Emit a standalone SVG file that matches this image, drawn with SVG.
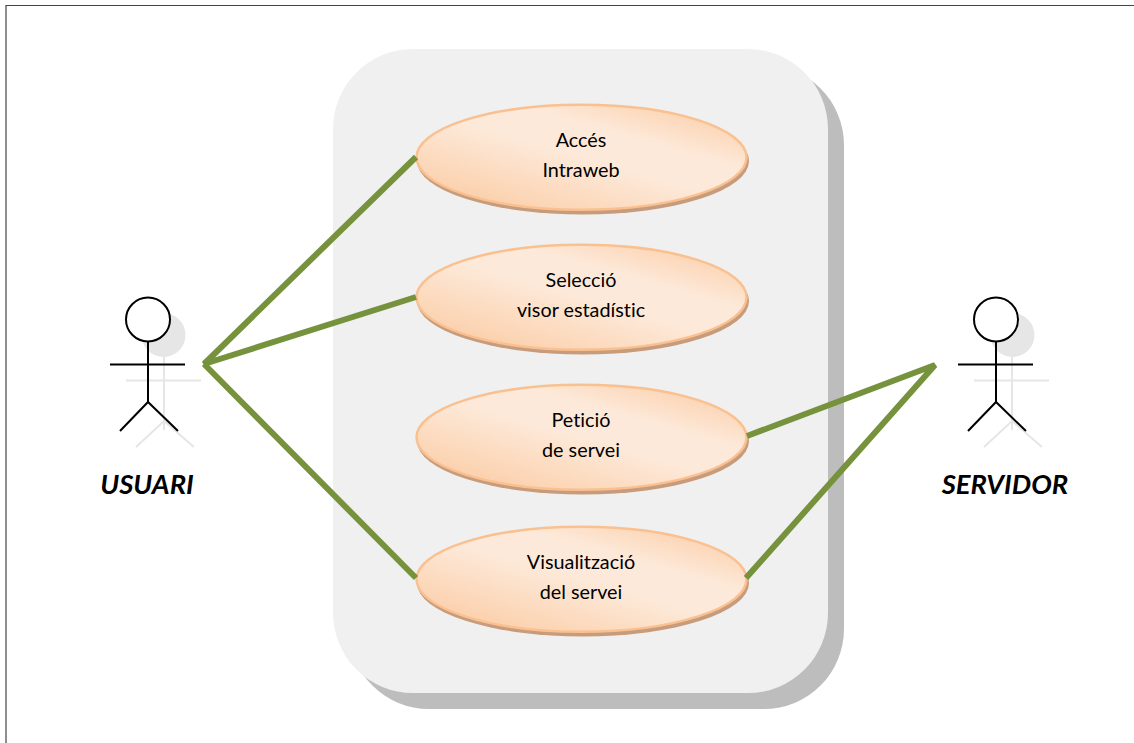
<svg xmlns="http://www.w3.org/2000/svg" width="1134" height="743" viewBox="0 0 1134 743">
<style>
.e{fill:url(#g);stroke:#fac090;stroke-width:2.5}
.es{fill:#c79c7c}
.t{font-family:Lato,"Liberation Sans",sans-serif;font-size:19.800px;fill:#000;text-anchor:middle;font-variant-ligatures:none}
.a{font-family:Lato,"Liberation Sans",sans-serif;font-size:27.400px;font-weight:700;font-style:italic;fill:#000;text-anchor:middle}
.l{fill:none;stroke:#000;stroke-width:2}
.s{fill:none;stroke:#e6e6e6;stroke-width:2}
.c{fill:none;stroke:#76923c;stroke-width:6;stroke-linejoin:miter}
</style>
<defs>
<linearGradient id="g" x1="0.05" y1="1" x2="0.95" y2="0">
<stop offset="0" stop-color="#fbc99f"/><stop offset="0.5" stop-color="#fde9d9"/><stop offset="0.68" stop-color="#fde9d9"/><stop offset="1" stop-color="#fbcaa2"/>
</linearGradient>
</defs>
<rect width="1134" height="743" fill="#fff"/>
<path d="M6 743V5.500H1134" fill="none" stroke="#444" stroke-width="1.200"/>
<g id="boundary">
<rect x="349" y="65" width="495" height="644" rx="80" fill="#bdbdbd"/>
<rect x="333" y="49" width="495" height="644" rx="80" fill="#f0f0f0"/>
</g>
<g id="use1">
<ellipse class="es" cx="583" cy="161" rx="166" ry="53.500"/>
<ellipse class="e" cx="581.500" cy="157.300" rx="165" ry="52.500"/>
<text class="t" x="581" y="147">Accés</text><text class="t" x="581" y="177">Intraweb</text>
</g>
<g id="use2">
<ellipse class="es" cx="583" cy="301" rx="166" ry="53.500"/>
<ellipse class="e" cx="581.500" cy="297.300" rx="165" ry="52.500"/>
<text class="t" x="581" y="287">Selecció</text><text class="t" x="581" y="317">visor estadístic</text>
</g>
<g id="use3">
<ellipse class="es" cx="583" cy="441" rx="166" ry="53.500"/>
<ellipse class="e" cx="581.500" cy="437.300" rx="165" ry="52.500"/>
<text class="t" x="581" y="427">Petició</text><text class="t" x="581" y="457">de servei</text>
</g>
<g id="use4">
<ellipse class="es" cx="583" cy="583" rx="166" ry="53.500"/>
<ellipse class="e" cx="581.500" cy="579.300" rx="165" ry="52.500"/>
<text class="t" x="581" y="569">Visualització</text><text class="t" x="581" y="599">del servei</text>
</g>
<g id="connectors">
<path class="c" d="M416 157L204 364L416 297M204 364L416 578"/>
<path class="c" d="M747 436L935 365L746 578"/>
</g>
<g id="usuari">
<circle cx="163.500" cy="335" r="22" fill="#e6e6e6"/>
<path class="s" d="M164 357V430M126 380.500H201M136 447L164 421L194 447"/>
<circle cx="148" cy="319.500" r="22" fill="#fff" stroke="#000" stroke-width="2"/>
<path class="l" d="M148 341.500V402M110 364.500H185M120 431L148 402L178 431"/>
<text class="a" x="147" y="494">USUARI</text>
</g>
<g id="servidor">
<circle cx="1012.500" cy="335" r="22" fill="#e6e6e6"/>
<path class="s" d="M1012 357V430M974 380.500H1049M984 447L1012 421L1042 447"/>
<circle cx="996" cy="319.500" r="22" fill="#fff" stroke="#000" stroke-width="2"/>
<path class="l" d="M996 341.500V402M958 364.500H1033M968 431L996 402L1026 431"/>
<text class="a" x="1005" y="494">SERVIDOR</text>
</g>
</svg>
